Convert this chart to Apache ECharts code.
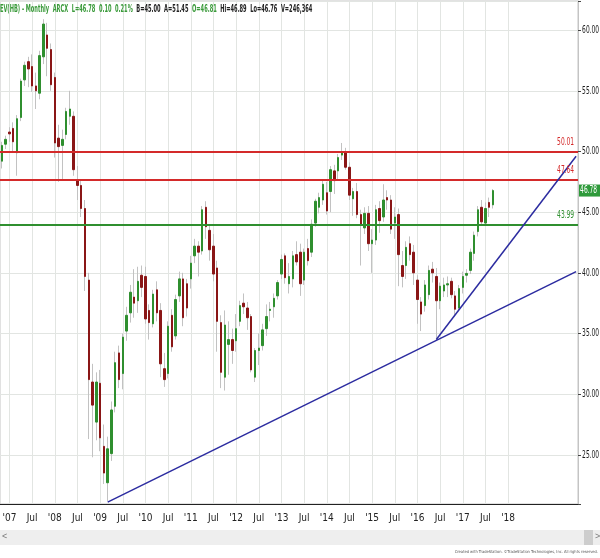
<!DOCTYPE html>
<html>
<head>
<meta charset="utf-8">
<script src="https://cdn.jsdelivr.net/npm/echarts@6/dist/echarts.min.js"></script>
<style>
  html, body { margin: 0; padding: 0; background: #fff; }
  #chart { width: 600px; height: 558px; }
</style>
</head>
<body>
<div id="chart"></div>
<script>
// monthly bars Nov 2006 .. Sep 2017
const openVals = [
  49.2, 50.6,
  51.6, 51.9, 49.9, 52.8, 55.9, 57.4, 57.0, 55.4, 54.8, 57.8, 59.6, 58.4,
  56.1, 51.1, 50.5, 51.4, 52.9, 52.9, 47.6, 47.2, 45.3, 39.4, 31.0, 27.7,
  30.9, 25.7, 22.7, 25.1, 29.0, 33.4, 31.7, 35.2, 36.7, 38.0, 37.7, 39.8,
  39.7, 36.9, 35.8, 38.6, 36.9, 32.1, 31.7, 36.5, 34.8, 38.1, 39.5, 39.1,
  39.5, 41.4, 42.2, 41.8, 45.4, 43.5, 42.2, 40.4, 35.9, 31.4, 34.1, 34.5,
  34.4, 36.0, 37.5, 37.1, 36.4, 31.4, 33.6, 34.0, 35.4, 36.9, 37.2, 38.1,
  39.9, 41.4, 39.1, 39.5, 41.5, 41.7, 39.4, 42.0, 41.7, 44.1, 45.4, 46.0,
  46.6, 46.7, 48.4, 48.4, 49.7, 49.9, 48.7, 46.1, 46.7, 44.8, 43.7, 44.9,
  42.4, 42.7, 45.3, 44.6, 46.2, 46.0, 44.1, 44.8, 40.6, 40.6, 42.4, 41.7,
  39.4, 37.6, 37.3, 38.2, 40.3, 39.7, 37.7, 38.5, 39.0, 39.3, 38.1, 37.1,
  38.8, 39.8, 40.2, 41.6, 43.4, 45.4, 44.1, 45.8, 45.6
]
const closeVals = [
  50.5, 51.0,
  51.45, 50.8, 52.7, 55.8, 57.1, 56.8, 55.4, 55.0, 57.9, 60.5, 58.5, 55.5,
  50.7, 50.4, 51.0, 53.3, 53.5, 48.5, 47.2, 45.3, 39.7, 31.2, 29.1, 31.0,
  26.4, 23.5, 25.5, 28.7, 32.6, 31.2, 34.7, 36.5, 38.4, 37.5, 39.3, 38.8,
  36.2, 35.9, 38.25, 36.7, 32.5, 31.2, 35.6, 33.9, 37.8, 39.5, 36.3, 37.1,
  40.8, 42.2, 41.7, 45.2, 43.8, 41.9, 39.9, 36.0, 31.8, 35.7, 34.5, 33.6,
  35.4, 37.3, 37.2, 36.3, 32.0, 33.6, 33.8, 35.3, 36.4, 37.0, 37.9, 39.2,
  41.1, 39.6, 39.7, 41.4, 40.9, 39.1, 41.7, 41.0, 44.0, 45.9, 46.2, 47.3,
  45.1, 48.5, 47.6, 49.5, 49.9, 48.7, 46.4, 46.7, 44.8, 43.9, 44.9, 42.4,
  42.7, 45.2, 44.3, 46.0, 46.0, 43.6, 44.6, 41.5, 39.7, 42.1, 41.5, 40.0,
  37.8, 36.6, 39.0, 40.2, 40.0, 37.7, 38.9, 39.0, 39.1, 38.2, 37.0, 38.7,
  39.7, 39.95, 41.7, 43.1, 45.2, 44.2, 45.3, 45.4, 46.78
]
const lowVals = [
  48.6, 50.2,
  50.8, 49.9, 48.0, 52.5, 55.4, 55.3, 54.9, 53.5, 54.3, 57.2, 56.2, 55.0,
  49.5, 47.5, 47.6, 51.0, 52.2, 48.0, 46.0, 44.6, 38.5, 26.3, 24.8, 26.2,
  25.3, 22.6, 21.2, 24.5, 28.5, 30.5, 30.4, 34.4, 35.9, 36.3, 36.7, 38.0,
  35.8, 34.5, 35.5, 36.0, 31.4, 30.6, 31.3, 33.5, 34.5, 37.6, 35.6, 36.4,
  38.7, 40.8, 39.7, 41.5, 42.8, 41.0, 39.3, 33.5, 30.5, 30.3, 31.6, 32.5,
  33.5, 35.6, 36.6, 35.3, 31.8, 31.0, 32.4, 33.6, 34.8, 36.0, 36.3, 37.8,
  39.5, 39.1, 38.3, 38.8, 40.6, 38.1, 39.0, 40.6, 41.3, 43.8, 44.9, 45.6,
  44.8, 45.0, 46.5, 47.6, 49.3, 48.5, 46.0, 44.7, 44.5, 40.6, 43.2, 41.8,
  40.0, 42.3, 43.3, 44.2, 45.2, 43.2, 42.8, 38.9, 38.8, 39.5, 41.0, 39.0,
  35.8, 35.2, 36.8, 37.8, 39.2, 34.5, 37.0, 38.0, 38.0, 37.9, 36.5, 36.9,
  38.3, 39.2, 39.9, 41.0, 43.0, 43.9, 43.9, 44.6, 45.3
]
const highVals = [
  50.8, 51.3,
  52.0, 52.4, 53.0, 56.0, 57.4, 57.8, 58.0, 56.5, 58.3, 60.9, 60.6, 58.9,
  56.5, 52.2, 51.8, 53.6, 55.0, 53.3, 48.8, 47.7, 46.0, 40.0, 32.5, 31.8,
  32.0, 27.5, 26.5, 29.4, 33.5, 34.0, 35.0, 37.2, 39.0, 40.3, 40.5, 40.6,
  40.5, 37.4, 38.6, 39.3, 37.5, 33.4, 36.0, 37.0, 38.2, 40.1, 40.0, 39.5,
  41.4, 42.8, 42.6, 45.5, 45.9, 44.0, 43.2, 41.0, 36.5, 36.9, 36.0, 35.4,
  36.6, 37.7, 38.3, 37.6, 36.6, 33.8, 35.0, 35.8, 37.4, 37.6, 38.3, 39.4,
  41.5, 41.6, 40.8, 41.8, 42.6, 42.4, 42.0, 42.8, 44.4, 46.1, 46.6, 47.6,
  47.5, 48.8, 48.9, 49.8, 50.7, 50.3, 49.1, 47.0, 47.4, 45.2, 45.4, 45.5,
  43.6, 45.6, 45.9, 47.3, 46.8, 46.4, 45.4, 45.3, 41.8, 42.6, 43.0, 42.3,
  39.8, 38.0, 39.4, 40.6, 40.9, 40.4, 39.2, 39.6, 39.7, 39.6, 38.5, 39.0,
  40.1, 40.3, 42.0, 43.4, 45.5, 46.0, 45.8, 46.2, 46.9
]

// horizontal levels and trend lines drawn on the chart
const levelVals = [50.01, 47.64, 43.99]
const trendLines = [
  [['2009-03', 21.1], ['2019-07', 40.1]],
  [['2016-06', 34.5], ['2019-07', 49.6]]
]

// price scale labels on the right
const yTickVals = [25, 30, 35, 40, 45, 50, 55, 60]

// x categories: Nov 2006 .. Jul 2019 (axis runs past the last bar)
const categories = (() => {
  const out = []
  let y = 2006, m = 11
  while (y < 2019 || (y === 2019 && m <= 7)) {
    out.push(`${y}-${String(m).padStart(2, '0')}`)
    m++
    if (m > 12) { m = 1; y++ }
  }
  return out
})()
const lastLabel = '2018-01'

const headerText = [
  ['g', 'IEV(HB) - Monthly  ARCX  L=46.78  0.10  0.21%  '],
  ['k', 'B=45.00  A=51.45  '],
  ['g', 'O=46.81  '],
  ['k', 'Hi=46.89  Lo=46.76  V=246,364']
]

const GREEN = '#2f8f2f'
const RED = '#8a1616'
const LEVEL_RED = '#d42a2a'
const BLUE = '#2c2ca0'
const GRID = '#e2e5e2'
const narrow = '"Liberation Sans Narrow", "DejaVu Sans Condensed", sans-serif'

const lastClose = closeVals[closeVals.length - 1]
const isHalfYear = (v) => v <= lastLabel && (v.endsWith('-01') || v.endsWith('-07'))
const levelColor = (v) => v > lastClose ? LEVEL_RED : GREEN

const ohlc = openVals.map((o, i) => [o, closeVals[i], lowVals[i], highVals[i]])
const bodies = openVals.map((o, i) => {
  const c = closeVals[i]
  return [o, c, Math.min(o, c), Math.max(o, c)]
})

const chart = echarts.init(document.getElementById('chart'))

chart.setOption({
  animation: false,
  grid: {
    left: 0, right: 22, top: 1, bottom: 54,
    outerBoundsMode: 'none',
    show: true, borderColor: '#c4c4c4', borderWidth: 1
  },
  xAxis: {
    type: 'category',
    data: categories,
    boundaryGap: true,
    axisLine: { lineStyle: { color: '#222', width: 1 } },
    axisTick: { show: false },
    axisLabel: {
      interval: (i, v) => isHalfYear(v),
      formatter: (v) => v.endsWith('-01') ? `'${v.slice(2, 4)}` : 'Jul',
      margin: 9, fontSize: 10, color: '#222', fontFamily: narrow
    },
    splitLine: {
      show: true,
      interval: (i, v) => isHalfYear(v),
      alignWithLabel: true,
      lineStyle: { color: GRID }
    }
  },
  yAxis: {
    type: 'value',
    position: 'right',
    min: 20.95, max: 62.4,
    splitNumber: 8, minInterval: 5, maxInterval: 5,
    axisLine: { show: true, lineStyle: { color: '#c4c4c4' } },
    axisTick: { show: true, length: 3, lineStyle: { color: '#444' } },
    axisLabel: { show: false },
    splitLine: { show: true, lineStyle: { color: GRID } }
  },
  series: [
    {
      // high-low wicks in light grey, bodies drawn over them
      type: 'candlestick',
      data: ohlc,
      barWidth: 1,
      silent: true,
      itemStyle: { color: '#c2c2c2', color0: '#c2c2c2', borderColor: '#c2c2c2', borderColor0: '#c2c2c2', borderWidth: 1 },
      z: 2
    },
    {
      type: 'candlestick',
      data: bodies,
      barWidth: 2,
      itemStyle: { color: GREEN, color0: RED, borderColor: GREEN, borderColor0: RED, borderWidth: 1 },
      z: 3,
      markLine: {
        silent: true,
        symbol: 'none',
        animation: false,
        label: { show: false },
        data: [
          ...levelVals.map((v) => ({
            yAxis: v,
            lineStyle: { color: levelColor(v), width: 2, type: 'solid' }
          })),
          ...trendLines.map(([a, b]) => [
            { coord: [categories.indexOf(a[0]), a[1]], lineStyle: { color: BLUE, width: 1.5, type: 'solid' } },
            { coord: [categories.indexOf(b[0]), b[1]] }
          ])
        ]
      }
    }
  ]
})

// header, scroll bar, footer and condensed price labels (placed through the y scale)
const toY = (v) => chart.convertToPixel({ yAxisIndex: 0 }, v)
const axisX = chart.convertToPixel({ xAxisIndex: 0 }, categories.length - 1) + 2
const priceLabels = yTickVals.map((v) => ({
  type: 'text', x: axisX + 4, y: toY(v), scaleX: 0.6, z: 10,
  style: { text: v.toFixed(2), fill: '#1a1a1a', fontSize: 11, fontFamily: narrow, verticalAlign: 'middle' }
}))
const levelLabels = levelVals.map((v) => ({
  type: 'text', x: axisX - 4, y: toY(v) - 4, scaleX: 0.6, z: 10,
  style: { text: v.toFixed(2), fill: levelColor(v), fontSize: 11, fontFamily: narrow, align: 'right', verticalAlign: 'bottom' }
}))
const lastTag = {
  type: 'group', x: axisX, y: toY(lastClose), z: 11,
  children: [
    { type: 'rect', shape: { x: 0, y: -6, width: 22, height: 12 }, style: { fill: '#2e9a3a' } },
    { type: 'text', x: 2, y: 0, scaleX: 0.6, style: { text: lastClose.toFixed(2), fill: '#fff', fontSize: 11, fontFamily: narrow, verticalAlign: 'middle' } }
  ]
}

chart.setOption({
  graphic: [
    {
      type: 'text', x: -2, y: 4, z: 10, scaleX: 0.515,
      style: {
        text: headerText.map(([k, t]) => `{${k}|${t}}`).join(''),
        rich: {
          g: { fill: '#3a9a3a', fontSize: 11, fontWeight: 'bold', fontFamily: narrow },
          k: { fill: '#222', fontSize: 11, fontWeight: 'bold', fontFamily: narrow }
        }
      }
    },
    { type: 'rect', x: 0, y: 530, shape: { width: 600, height: 15 }, style: { fill: '#eeeeee' } },
    { type: 'rect', x: 584, y: 530, shape: { width: 9, height: 15 }, style: { fill: '#cdcdcd' } },
    { type: 'text', x: 2, y: 532, style: { text: '<', fill: '#777', fontSize: 9 } },
    { type: 'text', x: 595, y: 532, style: { text: '>', fill: '#777', fontSize: 9 } },
    {
      type: 'text', x: 598, y: 550,
      style: { text: 'Created with TradeStation. ©TradeStation Technologies, Inc. All rights reserved.', fill: '#555', fontSize: 4, align: 'right', fontFamily: narrow }
    },
    ...priceLabels,
    ...levelLabels,
    lastTag
  ]
})
</script>
</body>
</html>
